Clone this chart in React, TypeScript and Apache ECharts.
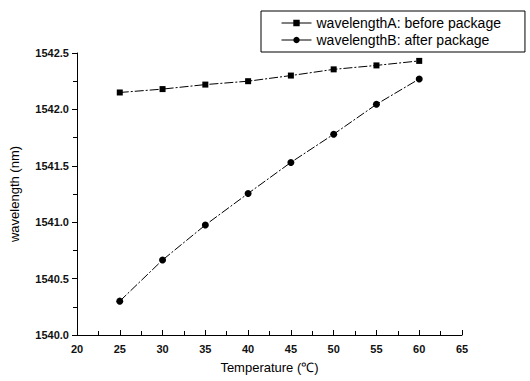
import React, { useEffect, useRef } from "react";
import * as echarts from "echarts";

const temperatures = [25, 30, 35, 40, 45, 50, 55, 60];
const wavelengthA = [1542.15, 1542.18, 1542.22, 1542.25, 1542.3, 1542.355, 1542.39, 1542.43];
const wavelengthB = [1540.3, 1540.665, 1540.975, 1541.255, 1541.53, 1541.78, 1542.045, 1542.27];
const seriesNames = ["wavelengthA: before package", "wavelengthB: after package"];

export default function App() {
  const ref = useRef<HTMLDivElement>(null);
  useEffect(() => {
    document.body.style.margin = "0";
    const chart = echarts.init(ref.current!, null, { renderer: "svg" });
    const font = "Liberation Sans, Arial, sans-serif";
    const lineDash = [9, 2, 2, 2];
    chart.setOption({
      animation: false,
      backgroundColor: "#fff",
      grid: { left: 75, right: 68, top: 53, bottom: 46 },
      legend: {
        orient: "vertical",
        left: 261,
        top: 11,
        padding: [4, 24, 4, 20],
        itemGap: 1,
        itemWidth: 30,
        itemHeight: 8,
        borderColor: "#000",
        borderWidth: 1,
        borderRadius: 0,
        lineStyle: { type: "solid", width: 1 },
        textStyle: { fontFamily: font, fontSize: 14, color: "#000", lineHeight: 16 },
        data: seriesNames,
      },
      xAxis: {
        type: "value",
        min: 20,
        max: 65,
        interval: 5,
        name: "Temperature (℃)",
        nameLocation: "middle",
        nameGap: 26,
        nameTextStyle: { fontFamily: font, fontSize: 13, color: "#000" },
        axisLine: { show: true, lineStyle: { color: "#000", width: 1 } },
        axisTick: { show: true, inside: true, length: 5, lineStyle: { color: "#000" } },
        minorTick: { show: true, splitNumber: 2, length: 4, lineStyle: { color: "#000" } },
        axisLabel: { fontFamily: font, fontSize: 11, fontWeight: "bold", color: "#111", margin: 8 },
        splitLine: { show: false },
      },
      yAxis: {
        type: "value",
        min: 1540.0,
        max: 1542.5,
        interval: 0.5,
        name: "wavelength (nm)",
        nameLocation: "middle",
        nameGap: 56,
        nameTextStyle: { fontFamily: font, fontSize: 13, color: "#000" },
        axisLine: { show: true, lineStyle: { color: "#000", width: 1 } },
        axisTick: { show: true, inside: false, length: 5, lineStyle: { color: "#000" } },
        minorTick: { show: true, splitNumber: 2, length: 4, lineStyle: { color: "#000" } },
        axisLabel: {
          fontFamily: font,
          fontSize: 11,
          fontWeight: "bold",
          color: "#111",
          margin: 8,
          formatter: (v: number) => v.toFixed(1),
        },
        splitLine: { show: false },
      },
      series: [
        {
          name: seriesNames[0],
          type: "line",
          data: temperatures.map((t, i) => [t, wavelengthA[i]]),
          symbol: "rect",
          symbolSize: 6,
          itemStyle: { color: "#000" },
          lineStyle: { color: "#000", width: 1, type: lineDash },
        },
        {
          name: seriesNames[1],
          type: "line",
          data: temperatures.map((t, i) => [t, wavelengthB[i]]),
          symbol: "circle",
          symbolSize: 7,
          itemStyle: { color: "#000" },
          lineStyle: { color: "#000", width: 1, type: lineDash },
        },
      ],
    });
    return () => chart.dispose();
  }, []);
  return <div ref={ref} style={{ width: 530, height: 381 }} />;
}
